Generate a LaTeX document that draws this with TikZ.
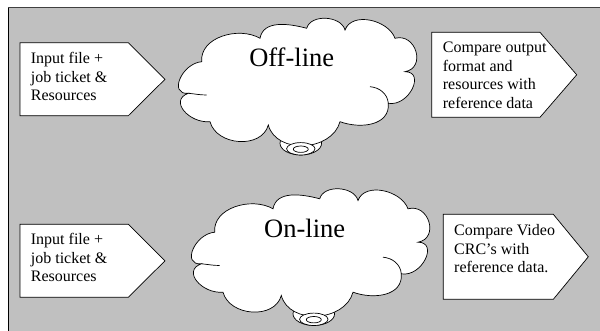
\documentclass[tikz,border=0pt]{standalone}
\usepackage{fontspec}
\setmainfont{Liberation Serif}
\definecolor{panel}{HTML}{C0C0C0}
\tikzset{
  box/.style={draw=black, fill=white, line width=0.7pt, line join=miter},
  boxtext/.style={anchor=base west, inner sep=0pt, font=\fontsize{16}{18.5}\selectfont},
  cloudline/.style={draw=black, fill=white, line width=0.7pt},
  hint/.style={draw=black, line width=0.7pt},
  cloudlabel/.style={anchor=base, inner sep=0pt, font=\fontsize{26.5}{30}\selectfont},
  pics/thought/.style={code={
    % trailing bubbles below the cloud
    \draw[cloudline] (300.8,187.7) ellipse[x radius=20.8, y radius=11.7];
    % cloud outline
    \draw[cloudline]
      (201.7,269.3) to[out=95,in=150] (260,292.7)
      to[out=80,in=165] (306.7,302.7)
      to[out=75,in=105] (345,301)
      to[out=70,in=110] (395,292.7)
      to[out=15,in=10,looseness=1.6] (405,259.3)
      to[out=0,in=-10,looseness=1.5] (388.3,227.7)
      to[out=-85,in=-20,looseness=1.1] (340,209.3)
      to[out=-105,in=-75,looseness=1.1] (268.3,206)
      to[out=-105,in=-75,looseness=1.1] (210,209.3)
      to[out=185,in=200,looseness=1.5] (188.3,237.7)
      to[out=185,in=185,looseness=1.5] cycle;
    % inner strokes of the lobes
    \draw[hint] (188.3,237.7) to[out=-5,in=180] (206.7,236);
    \draw[hint] (388.3,227.7) to[out=95,in=-5] (370,244.3);
    \draw[cloudline] (300.8,182.2) ellipse[x radius=14.2, y radius=6.2];
    \draw[cloudline] (300.8,181.8) ellipse[x radius=7.5, y radius=3.2];
  }}
}
\begin{document}
\begin{tikzpicture}[x=1pt,y=1pt]
  \useasboundingbox (0,0) rectangle (600,331);
  % grey panel with its frame
  \fill[panel] (8,0) rectangle (600,324);
  \draw[line width=0.8pt] (8,0) -- (8,324);
  \draw[line width=0.8pt, black!75] (8,324) -- (600,324);

  % upper row: off-line test
  \draw[box] (20,288.3) -- (128.3,288.3) -- (165,251.7) -- (128.3,215.3) -- (20,215.3) -- cycle;
  \node[boxtext] (offin) at (30.7,267) {\parbox[t]{4cm}{\raggedright Input file +\\ job ticket \&\\ Resources}};
  \pic at (0,0) {thought};
  \node[cloudlabel] (offline) at (291.7,264) {Off-line};
  \draw[box] (431.7,298.7) -- (540,298.7) -- (576.7,256.2) -- (540,213.7) -- (431.7,213.7) -- cycle;
  \node[boxtext] (offout) at (442.7,278.3) {\parbox[t]{4cm}{\raggedright Compare output\\ format and\\ resources with\\ reference data}};

  % lower row: on-line test
  \draw[box] (20,106.7) -- (128.3,106.7) -- (165,70.2) -- (128.3,33.7) -- (20,33.7) -- cycle;
  \node[boxtext] (onin) at (30.7,86) {\parbox[t]{4cm}{\raggedright Input file +\\ job ticket \&\\ Resources}};
  \pic at (13,-170.5) {thought};
  \node[cloudlabel] (online) at (304.7,93.5) {On-line};
  \draw[box] (443.3,116.7) -- (553.3,116.7) -- (588.3,74.2) -- (553.3,31.7) -- (443.3,31.7) -- cycle;
  \node[boxtext] (onout) at (454,95.3) {\parbox[t]{4cm}{\raggedright Compare Video\\ CRC's with\\ reference data.}};
\end{tikzpicture}
\end{document}
